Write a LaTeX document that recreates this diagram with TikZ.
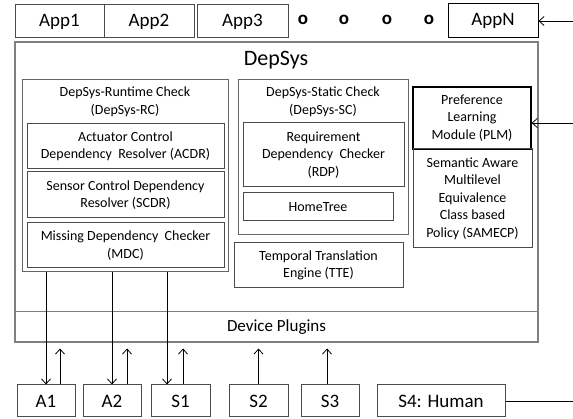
\documentclass[tikz,border=0pt]{standalone}
\usepackage{fontspec}
\setmainfont{Carlito}
\usepackage{tikz}
\usetikzlibrary{shapes,arrows}
\usetikzlibrary{arrows.meta}
\usetikzlibrary{positioning}

\begin{document}
\begin{tikzpicture}[x=1pt,y=-1pt,
 box/.style={draw=black!70, line width=1pt, inner sep=0pt, align=center, font=\fontsize{14}{17.5}\selectfont},
 big/.style={box, font=\fontsize{19}{22}\selectfont},
 grp/.style={draw=black!60, line width=1pt, inner sep=0pt},
 lbl/.style={align=center, font=\fontsize{14}{17.5}\selectfont},
 arr/.style={-{Straight Barb[length=5pt,width=9pt]}, line width=0.8pt}]
 \useasboundingbox (0,0) rectangle (573,419);

 % applications on top
 \node[big, minimum width=89pt, minimum height=33pt] (app1) at (59.5,21.5) {App1};
 \node[big, minimum width=90pt, minimum height=33pt] (app2) at (149,21.5) {App2};
 \node[big, minimum width=91pt, minimum height=33pt] (app3) at (242.5,21.5) {App3};
 \foreach \x/\n in {303/d1,344/d2,387/d3,429/d4}
   \node[font=\fontsize{19}{22}\selectfont\bfseries] (\n) at (\x,20) {o};
 \node[big, draw=black, minimum width=90pt, minimum height=34pt] (appN) at (493,21) {AppN};

 % DepSys frame
 \node[draw=black!50, line width=1.3pt, minimum width=523pt, minimum height=300pt] (depsys) at (276.5,192) {};
 \node[font=\fontsize{22}{26}\selectfont] (dstitle) at (276,60) {DepSys};
 \node[draw=black!50, line width=1pt, minimum width=523pt, minimum height=30pt, font=\fontsize{17}{20}\selectfont] (plug) at (276.5,327) {Device Plugins};

 % runtime check
 \node[grp, minimum width=206pt, minimum height=192pt] (rc) at (125,176) {};
 \node[lbl] (rctitle) at (125,102) {DepSys-Runtime Check\\(DepSys-RC)};
 \node[box, minimum width=197pt, minimum height=45pt] (acdr) at (125.5,146.5) {Actuator Control\\Dependency~ Resolver (ACDR)};
 \node[box, minimum width=197pt, minimum height=46pt] (scdr) at (125.5,195) {Sensor Control Dependency\\Resolver (SCDR)};
 \node[box, minimum width=197pt, minimum height=45pt] (mdc) at (125.5,245.5) {Missing Dependency~ Checker\\(MDC)};

 % static check
 \node[grp, minimum width=170pt, minimum height=155pt] (sc) at (323,157.5) {};
 \node[lbl] (sctitle) at (323,102) {DepSys-Static Check\\(DepSys-SC)};
 \node[box, minimum width=161pt, minimum height=64pt] (rdp) at (323.5,155) {Requirement\\Dependency~ Checker\\(RDP)};
 \node[box, minimum width=150pt, minimum height=28pt] (home) at (318,207) {HomeTree};
 \node[box, minimum width=169pt, minimum height=45pt] (tte) at (318.5,265.5) {Temporal Translation\\Engine (TTE)};

 % preference learning
 \node[box, draw=black, line width=1.3pt, minimum width=118pt, minimum height=62pt] (plm) at (472,118) {Preference\\Learning\\Module (PLM)};
 \node[box, minimum width=119pt, minimum height=99pt] (samecp) at (472.5,198.5) {Semantic Aware\\Multilevel\\Equivalence\\Class based\\Policy (SAMECP)};

 % devices
 \node[big, minimum width=58pt, minimum height=32pt] (a1) at (46,401) {A1};
 \node[big, minimum width=58pt, minimum height=32pt] (a2) at (112,401) {A2};
 \node[big, minimum width=59pt, minimum height=32pt] (s1) at (180.5,401) {S1};
 \node[big, minimum width=59pt, minimum height=32pt] (s2) at (258.5,401) {S2};
 \node[big, minimum width=58pt, minimum height=32pt] (s3) at (330,401) {S3};
 \node[big, minimum width=128pt, minimum height=32pt] (s4) at (441,401) {S4: Human};

 % runtime check drives the actuators
 \draw[arr] (rc.south -| a1.north) -- (a1.north);
 \draw[arr] (rc.south -| a2.north) -- (a2.north);
 \draw[arr] ([xshift=-13.5pt]s1.north |- rc.south) -- ([xshift=-13.5pt]s1.north);

 % readings go up to the plugins
 \draw[arr, shorten >=6pt] ([xshift=14pt]a1.north) -- ([xshift=14pt]a1.north |- plug.south);
 \draw[arr, shorten >=6pt] ([xshift=15pt]a2.north) -- ([xshift=15pt]a2.north |- plug.south);
 \draw[arr, shorten >=6pt] ([xshift=2.5pt]s1.north) -- ([xshift=2.5pt]s1.north |- plug.south);
 \draw[arr, shorten >=6pt] (s2.north) -- (s2.north |- plug.south);
 \draw[arr, shorten >=6pt] ([xshift=-3pt]s3.north) -- ([xshift=-3pt]s3.north |- plug.south);

 % lines coming in from the right
 \coordinate (inapp) at (573,21);
 \coordinate (inplm) at (573,123);
 \coordinate (outs4) at (573,401);
 \draw[arr] (inapp) -- (appN.east);
 \draw[arr] (inplm) -- (inplm -| plm.east);
 \draw[line width=0.8pt] (s4.east) -- (outs4);
\end{tikzpicture}
\end{document}
